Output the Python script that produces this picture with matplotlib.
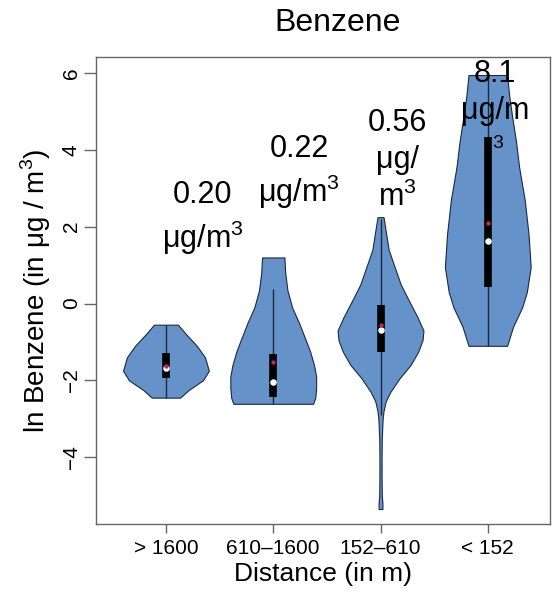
"""
Violin plot of ln benzene concentration by distance class.
"""

import numpy as np
import matplotlib
matplotlib.use("Agg")
import matplotlib.pyplot as plt

plt.rcParams['font.family'] = ['Liberation Sans', 'DejaVu Sans']
plt.rcParams['mathtext.fontset'] = 'custom'
plt.rcParams['mathtext.rm'] = 'Liberation Sans'

# distance classes
categories = ["> 1600", "610\u20131600", "152\u2013610", "< 152"]

# violin outlines: y levels (ln ug/m3) and relative density at each level
violin_y = [
    [-0.55, -0.8, -1.1, -1.4, -1.75, -2.0, -2.25, -2.45],
    [1.2, 0.8, 0.35, -0.1, -0.5, -0.9, -1.25, -1.6, -1.9, -2.2, -2.45, -2.61],
    [2.25, 1.9, 1.4, 0.95, 0.5, 0.1, -0.35, -0.7, -0.95, -1.25, -1.6, -1.95,
     -2.3, -2.55, -2.8, -3.0, -3.5, -4.0, -4.5, -5.0, -5.2, -5.35],
    [5.95, 5.4, 4.85, 4.2, 3.55, 2.7, 1.8, 0.95, 0.3, -0.1, -0.6, -1.1],
]
violin_density = [
    [0.28, 0.47, 0.72, 0.91, 1.0, 0.86, 0.53, 0.33],
    [0.26, 0.28, 0.33, 0.44, 0.60, 0.74, 0.86, 0.95, 1.0, 1.0, 0.98, 0.93],
    [0.07, 0.12, 0.19, 0.33, 0.47, 0.65, 0.86, 1.0, 0.98, 0.88, 0.70, 0.44,
     0.23, 0.12, 0.07, 0.05, 0.03, 0.025, 0.025, 0.03, 0.045, 0.045],
    [0.45, 0.50, 0.57, 0.66, 0.73, 0.86, 0.95, 1.0, 0.91, 0.80, 0.59, 0.45],
]

# box summary values
q1 = [-1.93, -2.43, -1.25, 0.44]
q3 = [-1.28, -1.31, -0.05, 4.33]
medians = [-1.67, -2.04, -0.70, 1.62]
means = [-1.62, -1.51, -0.57, 2.09]
whisker_lo = [-2.45, -2.61, -2.9, -1.1]
whisker_hi = [-0.55, 0.39, 2.2, 5.95]

# geometric means written above each violin
labels = ["0.20\n\u03bcg/m$^3$", "0.22\n\u03bcg/m$^3$", "0.56\n\u03bcg/\nm$^3$", "8.1\n\u03bcg/m"]
label_x = [1.34, 2.24, 3.16, 4.07]
label_y = [2.22, 3.42, 3.72, 5.49]

fill_color = "#6592c9"
edge_color = "#1c2840"

fig = plt.figure(figsize=(5.53, 6.01), dpi=100)
ax = fig.add_axes([0.1736, 0.1281, 0.8210, 0.7771])

max_half = 0.40
positions = np.arange(1, len(categories) + 1)

for i, pos in enumerate(positions):
    y = np.array(violin_y[i])
    hw = np.array(violin_density[i]) * max_half
    ax.fill_betweenx(y, pos - hw, pos + hw, facecolor=fill_color,
                     edgecolor=edge_color, linewidth=0.8, zorder=2)
    ax.vlines(pos, whisker_lo[i], whisker_hi[i], color=edge_color, linewidth=1.0, zorder=3)
    ax.vlines(pos, q1[i], q3[i], color="black", linewidth=5.5, zorder=4)
    ax.scatter(pos, medians[i], s=22, color="white", zorder=5, linewidths=0)
    ax.scatter(pos, means[i], s=10, color="#c8234a", zorder=6, linewidths=0)

for x, y, t in zip(label_x, label_y, labels):
    ax.text(x, y, t, ha="center", va="center", fontsize=22, linespacing=1.3,
            clip_on=False, zorder=7)
ax.text(4.09, 4.18, "3", ha="center", va="center", fontsize=14, zorder=7)

ax.set_xlim(0.348, 4.58)
ax.set_ylim(-5.74, 6.42)
ax.set_xticks(positions)
ax.set_xticklabels(categories, fontsize=15)
ax.set_yticks([-4, -2, 0, 2, 4, 6])
ax.set_yticklabels(["\u22124", "\u22122", "0", "2", "4", "6"], fontsize=15,
                   rotation=90, va="center")
ax.tick_params(axis="both", colors="#666666", labelcolor="black", width=1)
ax.tick_params(axis="x", length=6.5, pad=4)
ax.tick_params(axis="y", length=9, pad=2)
for s in ax.spines.values():
    s.set_color("#666666")
    s.set_linewidth(1.0)

ax.set_xlabel("Distance (in m)", fontsize=19, labelpad=3)
ax.set_ylabel("ln Benzene (in \u03bcg / m$^3$)", fontsize=20, labelpad=6)
fig.text(338 / 553, 1 - 23 / 601, "Benzene", ha="center", va="center", fontsize=23)

fig.savefig("out.png", dpi=100)
